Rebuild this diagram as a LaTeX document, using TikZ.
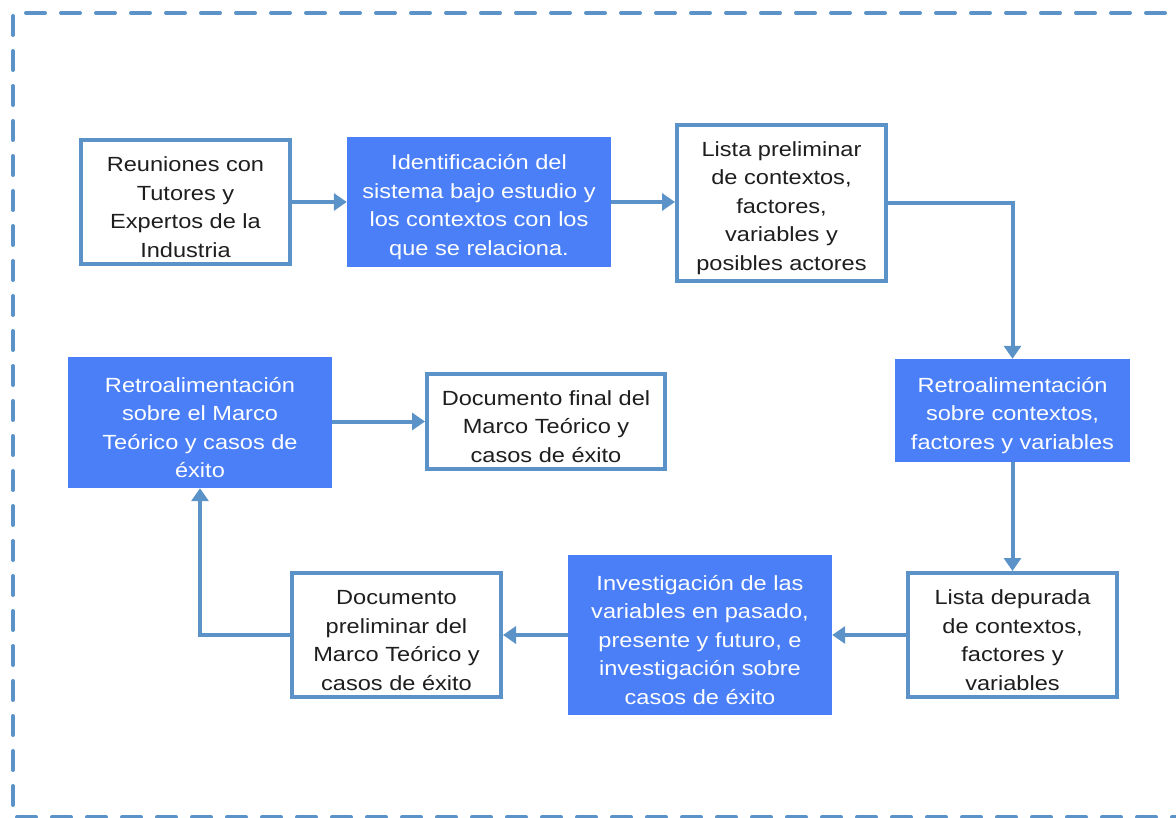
\documentclass[tikz,border=0pt]{standalone}
\usepackage{fontspec}
\setmainfont{Liberation Sans}[FakeStretch=1.15]
\usetikzlibrary{arrows.meta}
\definecolor{edgeblue}{HTML}{5B93C9}
\definecolor{fillblue}{HTML}{4A7FF8}
\definecolor{inkdark}{HTML}{1E1E1E}
% extra head room above the first text line, so text sits a little lower
\newcommand{\headroom}{\rule{0pt}{25pt}}
\tikzset{
  every node/.style={font=\fontsize{20.5}{28.5}\selectfont, align=center, inner sep=0pt},
  plainbox/.style={rectangle, draw=edgeblue, line width=4pt, fill=white, text=inkdark},
  bluebox/.style={rectangle, fill=fillblue, text=white},
  flow/.style={draw=edgeblue, line width=4pt, -{Triangle[length=13pt,width=17pt]}},
  frame/.style={draw=edgeblue, line width=4pt, dash pattern=on 19pt off 16pt, line cap=round}
}
\begin{document}
\begin{tikzpicture}[x=1pt, y=-1pt]
  \useasboundingbox (0,0) rectangle (1176,818);
  % dashed surrounding frame
  \draw[frame] (1200,13) -- (13,13) -- (13,817) -- (1200,817);

  % process steps
  \node[plainbox, minimum width=209pt, minimum height=124pt] (reuniones) at (185.5,202)
    {\headroom Reuniones con\\Tutores y\\Expertos de la\\Industria};
  \node[bluebox, minimum width=264pt, minimum height=130pt] (ident) at (479,202)
    {\headroom Identificación del\\sistema bajo estudio y\\los contextos con los\\que se relaciona.};
  \node[plainbox, minimum width=209pt, minimum height=156pt] (listapre) at (781.5,203)
    {\headroom Lista preliminar\\de contextos,\\factores,\\variables y\\posibles actores};
  \node[bluebox, minimum width=235pt, minimum height=103pt] (retroctx) at (1012.5,410.5)
    {\headroom Retroalimentación\\sobre contextos,\\factores y variables};
  \node[plainbox, minimum width=209pt, minimum height=124pt] (listadep) at (1012.5,635)
    {\headroom Lista depurada\\de contextos,\\factores y\\variables};
  \node[bluebox, minimum width=264pt, minimum height=160pt] (invest) at (700,635)
    {\headroom Investigación de las\\variables en pasado,\\presente y futuro, e\\investigación sobre\\casos de éxito};
  \node[plainbox, minimum width=209pt, minimum height=124pt] (docpre) at (396.5,635)
    {\headroom Documento\\preliminar del\\Marco Teórico y\\casos de éxito};
  \node[bluebox, minimum width=264pt, minimum height=131pt] (retromarco) at (200,422.5)
    {\headroom Retroalimentación\\sobre el Marco\\Teórico y casos de\\éxito};
  \node[plainbox, minimum width=238pt, minimum height=95pt] (docfin) at (546,421.5)
    {\headroom Documento final del\\Marco Teórico y\\casos de éxito};

  % connectors
  \draw[flow] (reuniones.east) -- (reuniones.east -| ident.west);
  \draw[flow] (ident.east) -- (ident.east -| listapre.west);
  \draw[flow] (listapre.east) -| (retroctx.north);
  \draw[flow] (retroctx.south) -- (listadep.north);
  \draw[flow] (listadep.west) -- (listadep.west -| invest.east);
  \draw[flow] (invest.west) -- (invest.west -| docpre.east);
  \draw[flow] (docpre.west) -| (retromarco.south);
  \draw[flow] (retromarco.east |- docfin.west) -- (docfin.west);
\end{tikzpicture}
\end{document}
